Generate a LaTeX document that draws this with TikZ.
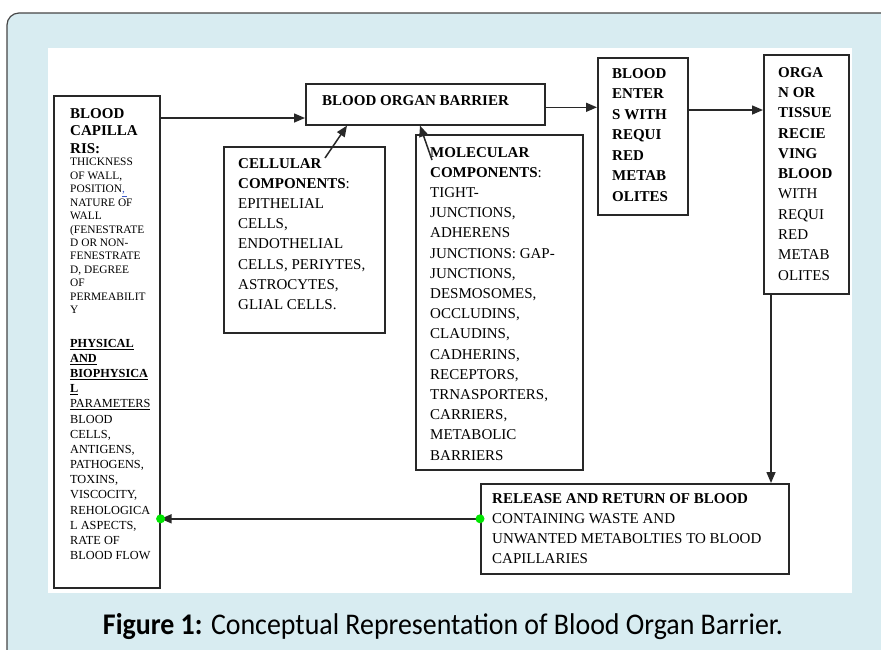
\documentclass[tikz,border=0pt]{standalone}
\usepackage{fontspec}
\setmainfont{Liberation Serif}
\newfontfamily\captionfont[FakeStretch=0.93]{Carlito}
\usetikzlibrary{arrows.meta}

\definecolor{panelblue}{RGB}{216,236,241}
\definecolor{panelline}{RGB}{70,70,70}
\definecolor{boxline}{RGB}{40,40,40}
\definecolor{dotgreen}{RGB}{0,230,0}
\definecolor{markblue}{RGB}{60,90,200}

\tikzset{
  box/.style={draw=boxline, line width=1.6pt, inner sep=0pt, anchor=north west},
  txt/.style={inner sep=0pt, anchor=north west, align=left, font=\fontsize{15}{20.2}\selectfont},
  flow/.style={draw=boxline, line width=1.5pt, -{Triangle[length=11pt,width=9pt]}},
}

\begin{document}
\begin{tikzpicture}[x=1pt, y=-1pt]
    \useasboundingbox (0,0) rectangle (881,649);
    \clip (0,0) rectangle (881,649);
    \fill[white] (0,0) rectangle (881,649);
    \draw[fill=panelblue, draw=panelline, line width=1.2pt, rounded corners=12pt] (7,13) rectangle (900,670);
    \fill[white] (48,48) rectangle (852,593);

    % boxes
    \node[box, minimum width=106pt, minimum height=492pt] (cap) at (53,95) {};
    \node[box, minimum width=239pt, minimum height=41pt] (bob) at (305,83) {};
    \node[box, minimum width=161pt, minimum height=186pt] (cell) at (223,146) {};
    \node[box, minimum width=167pt, minimum height=335pt] (mol) at (415,134) {};
    \node[box, minimum width=90pt, minimum height=157pt] (enter) at (597,57) {};
    \node[box, minimum width=85pt, minimum height=239pt] (organ) at (763,54) {};
    \node[box, minimum width=308pt, minimum height=90pt] (ret) at (480,483) {};

    % texts
    \node[txt, font=\bfseries\fontsize{15}{17.5}\selectfont] (captitle) at ([shift={(17,13)}]cap.north west) {BLOOD\\CAPILLA\\RIS:};
    \node[txt, font=\fontsize{11.4}{13.45}\selectfont] (capwall) at ([shift={(17,63)}]cap.north west)
        {THICKNESS\\OF WALL,\\POSITION{\color{markblue}\underline{,\,}}\\NATURE OF\\WALL\\(FENESTRATE\\D OR NON-\\FENESTRATE\\D, DEGREE\\OF\\PERMEABILIT\\Y};
    \node[txt, font=\fontsize{12.3}{15.15}\selectfont] (capphys) at ([shift={(17,244)}]cap.north west)
        {\textbf{\underline{PHYSICAL}}\\\textbf{\underline{AND}}\\\textbf{\underline{BIOPHYSICA}}\\\textbf{\underline{L}}\\\underline{PARAMETERS}\\BLOOD\\CELLS,\\ANTIGENS,\\PATHOGENS,\\TOXINS,\\VISCOCITY,\\REHOLOGICA\\L ASPECTS,\\RATE OF\\BLOOD FLOW};
    \node[txt, font=\bfseries\fontsize{15}{18}\selectfont] (bobtext) at ([shift={(17,12)}]bob.north west) {BLOOD ORGAN BARRIER};
    \node[txt] (celltext) at ([shift={(15,12)}]cell.north west)
        {\textbf{CELLULAR}\\\textbf{COMPONENTS}:\\EPITHELIAL\\CELLS,\\ENDOTHELIAL\\CELLS, PERIYTES,\\ASTROCYTES,\\GLIAL CELLS.};
    \node[txt] (moltext) at ([shift={(15,13)}]mol.north west)
        {\textbf{MOLECULAR}\\\textbf{COMPONENTS}:\\TIGHT-\\JUNCTIONS,\\ADHERENS\\JUNCTIONS: GAP-\\JUNCTIONS,\\DESMOSOMES,\\OCCLUDINS,\\CLAUDINS,\\CADHERINS,\\RECEPTORS,\\TRNASPORTERS,\\CARRIERS,\\METABOLIC\\BARRIERS};
    \node[txt, font=\bfseries\fontsize{15}{20.5}\selectfont] (entertext) at ([shift={(15,11)}]enter.north west)
        {BLOOD\\ENTER\\S WITH\\REQUI\\RED\\METAB\\OLITES};
    \node[txt, font=\fontsize{15}{20.3}\selectfont] (organtext) at ([shift={(15,13)}]organ.north west)
        {\textbf{ORGA}\\\textbf{N OR}\\\textbf{TISSUE}\\\textbf{RECIE}\\\textbf{VING}\\\textbf{BLOOD}\\WITH\\REQUI\\RED\\METAB\\OLITES};
    \node[txt, font=\fontsize{15}{20}\selectfont] (rettext) at ([shift={(12,10)}]ret.north west)
        {\textbf{RELEASE AND RETURN OF BLOOD}\\CONTAINING WASTE AND\\UNWANTED METABOLTIES TO BLOOD\\CAPILLARIES};

    % connectors
    \coordinate (capout) at ([yshift=-23pt]cap.north east);
    \coordinate (bobout) at ([yshift=-3pt]bob.east);
    \coordinate (enterout) at ([yshift=-53pt]enter.north east);
    \coordinate (cellout) at ([shift={(102,12)}]cell.north west);
    \coordinate (molout) at ([shift={(17,26)}]mol.north west);
    \coordinate (organout) at ([xshift=8pt]organ.south west);
    \coordinate (retout) at ([yshift=10pt]ret.west);
    \draw[flow] (capout) -- (capout -| bob.west);
    \draw[flow] (bobout) -- (bobout -| enter.west);
    \draw[flow] (enterout) -- (enterout -| organ.west);
    \draw[flow] (cellout) -- ([xshift=42pt]bob.south west);
    \draw[flow] (molout) -- ([xshift=115pt]bob.south west);
    \draw[flow] (organout) -- (organout |- ret.north);
    \draw[flow] (retout) -- (retout -| cap.east);
    \fill[dotgreen] (retout) circle (4.5);
    \fill[dotgreen] (retout -| cap.east) circle (4.5);

    \node[font=\captionfont\fontsize{30}{32}\selectfont, anchor=base] (caption) at (443,634)
        {\textbf{Figure 1:} Conceptual Representation of Blood Organ Barrier.};
\end{tikzpicture}
\end{document}
